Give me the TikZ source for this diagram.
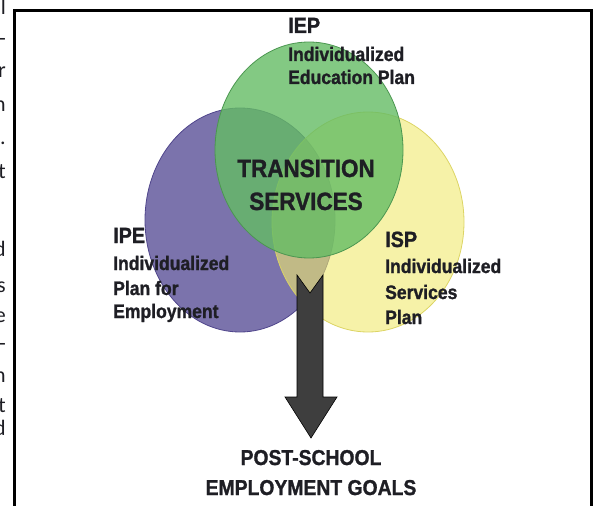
\documentclass[tikz,border=0pt]{standalone}
\usepackage{fontspec}
\newfontfamily\df[FakeStretch=0.9,FakeBold=1.2]{Liberation Sans}
\newfontfamily\sidefont{Carlito}
\definecolor{purp}{RGB}{123,115,172}
\definecolor{purpedge}{RGB}{80,70,140}
\definecolor{yell}{RGB}{240,234,110}
\definecolor{yelledge}{RGB}{220,212,100}
\definecolor{gree}{RGB}{100,188,100}
\definecolor{greeedge}{RGB}{75,150,80}
\definecolor{txt}{RGB}{30,30,36}
\definecolor{arr}{RGB}{62,62,62}
\begin{document}
\begin{tikzpicture}[x=1pt,y=-1pt,
  head/.style={font=\df\bfseries\fontsize{22}{24}\selectfont, text=txt, inner sep=0pt, anchor=base west},
  body/.style={font=\df\bfseries\fontsize{19.5}{22}\selectfont, text=txt, inner sep=0pt, anchor=base west},
  centre/.style={font=\df\bfseries\fontsize{25}{27}\selectfont, text=txt, inner sep=0pt, anchor=base},
  goal/.style={font=\df\bfseries\fontsize{21.5}{24}\selectfont, text=txt, inner sep=0pt, anchor=base},
  frag/.style={font=\sidefont\fontsize{22}{24}\selectfont, text=txt, inner sep=0pt, anchor=base east}]
\useasboundingbox (0,0) rectangle (593,505);
% frame
\draw[line width=2.5pt] (14.5,515) -- (14.5,10.5) -- (591.5,10.5) -- (591.5,515);
% cut-off text of the neighbouring column
\node[frag] (f1) at (6,15) {l};
\node[frag] (f2) at (6,46) {-};
\node[frag] (f3) at (6,78) {r};
\node[frag] (f4) at (6,112) {n};
\node[frag] (f5) at (6,145) {.};
\node[frag] (f6) at (6,178) {t};
\node[frag] (f7) at (6,256) {d};
\node[frag] (f8) at (6,292) {s};
\node[frag] (f9) at (6,322) {e};
\node[frag] (f10) at (6,350) {-};
\node[frag] (f11) at (6,382) {n};
\node[frag] (f12) at (6,412) {t};
\node[frag] (f13) at (6,435) {d};
% ellipses
\fill[purp] (240,220) ellipse [x radius=95, y radius=112];
\draw[purpedge, line width=0.8pt] (240,220) ellipse [x radius=95, y radius=112];
\fill[yell, fill opacity=0.6] (368,222) ellipse [x radius=96, y radius=110];
\draw[yelledge, line width=0.8pt] (368,222) ellipse [x radius=96, y radius=110];
\fill[gree, fill opacity=0.8] (309,150) ellipse [x radius=94, y radius=108];
\draw[greeedge, line width=0.8pt] (309,150) ellipse [x radius=94, y radius=108];
% arrow
\draw[fill=arr, draw=black, line width=0.6pt, line join=miter]
  (297,275) -- (310,293) -- (323,275) -- (323,397) -- (337,397) -- (311,438)
  -- (285,397) -- (297,397) -- cycle;
% texts
\node[head] (iep) at (288,33) {IEP};
\node[body] (iep1) at (288,61) {Individualized};
\node[body] (iep2) at (288,84) {Education Plan};
\node[head] (ipe) at (113,243) {IPE};
\node[body] (ipe1) at (113,270) {Individualized};
\node[body] (ipe2) at (113,295) {Plan for};
\node[body] (ipe3) at (113,318) {Employment};
\node[head] (isp) at (385,247) {ISP};
\node[body] (isp1) at (385,273) {Individualized};
\node[body] (isp2) at (385,299) {Services};
\node[body] (isp3) at (385,324) {Plan};
\node[centre] (ts1) at (306,177) {TRANSITION};
\node[centre] (ts2) at (306,210) {SERVICES};
\node[goal] (g1) at (311,465) {POST-SCHOOL};
\node[goal] (g2) at (311,495) {EMPLOYMENT GOALS};
\end{tikzpicture}
\end{document}
